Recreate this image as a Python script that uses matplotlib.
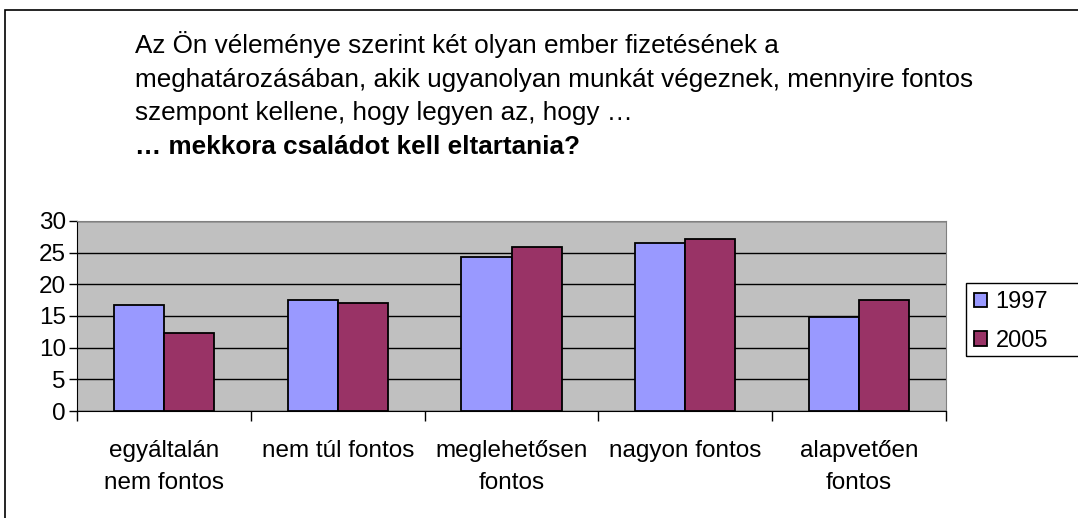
import matplotlib.pyplot as plt
from matplotlib.patches import Rectangle
import numpy as np

plt.rcParams['font.family'] = ['Liberation Sans', 'DejaVu Sans']

categories = ['egyáltalán\nnem fontos', 'nem túl fontos', 'meglehetősen\nfontos',
              'nagyon fontos', 'alapvetően\nfontos']
series_names = ['1997', '2005']
values_1997 = [16.7, 17.5, 24.3, 26.6, 14.9]
values_2005 = [12.3, 17.0, 25.9, 27.2, 17.5]
yticks = [0, 5, 10, 15, 20, 25, 30]

title_lines = [
    'Az Ön véleménye szerint két olyan ember fizetésének a',
    'meghatározásában, akik ugyanolyan munkát végeznek, mennyire fontos',
    'szempont kellene, hogy legyen az, hogy …',
]
title_bold = '… mekkora családot kell eltartania?'

W, H = 1078, 518
fig = plt.figure(figsize=(W / 100, H / 100), dpi=100)

# outer chart frame (cut off right and bottom)
fig.patches.append(Rectangle((5 / W, -0.1), 1.2, 1 - 10 / H + 0.1, transform=fig.transFigure,
                             fill=False, edgecolor='black', linewidth=1.2))

left, right, top, bottom = 77, 946, 221, 411
ax = fig.add_axes([left / W, 1 - bottom / H, (right - left) / W, (bottom - top) / H])
ax.set_facecolor('#C0C0C0')

x = np.arange(len(categories))
bw = 0.288
ax.bar(x - bw / 2, values_1997, bw, color='#9999FF', edgecolor='black', linewidth=1.3,
       label=series_names[0], zorder=3)
ax.bar(x + bw / 2, values_2005, bw, color='#993366', edgecolor='black', linewidth=1.3,
       label=series_names[1], zorder=3)

ax.set_xlim(-0.5, len(categories) - 0.5)
ax.set_ylim(0, 30)
ax.set_yticks(yticks)
ax.yaxis.grid(True, color='black', linewidth=1)
ax.set_axisbelow(True)
ax.tick_params(axis='y', labelsize=17.5, length=6, width=1, direction='out', pad=2)

ax.set_xticks(np.arange(len(categories) + 1) - 0.5)
ax.set_xticklabels([])
ax.set_xticks(x, minor=True)
ax.set_xticklabels(categories, minor=True, fontsize=17.5, linespacing=1.6)
ax.tick_params(axis='x', which='major', length=7, width=1)
ax.tick_params(axis='x', which='minor', length=0, pad=21)

for s in ['top', 'right']:
    ax.spines[s].set_color('#808080')
for s in ['left', 'bottom']:
    ax.spines[s].set_color('black')

# legend box runs past the right edge of the image
fig.patches.append(Rectangle((966 / W, 1 - 356 / H), 130 / W, 73 / H, transform=fig.transFigure,
                             fill=False, edgecolor='black', linewidth=1))
leg = ax.legend(loc='upper left', bbox_to_anchor=(966 / W, 1 - 283 / H), bbox_transform=fig.transFigure,
                fontsize=17, frameon=False,
                handlelength=0.55, handleheight=0.55, handletextpad=0.35, borderpad=0.35,
                labelspacing=0.7, borderaxespad=0)

ty = [45, 80, 113]
for yy, line in zip(ty, title_lines):
    fig.text(135 / W, 1 - yy / H, line, fontsize=18.8, va='center', ha='left')
fig.text(135 / W, 1 - 147 / H, title_bold, fontsize=18.8, fontweight='bold', va='center', ha='left')

fig.savefig('out.png', dpi=100)
